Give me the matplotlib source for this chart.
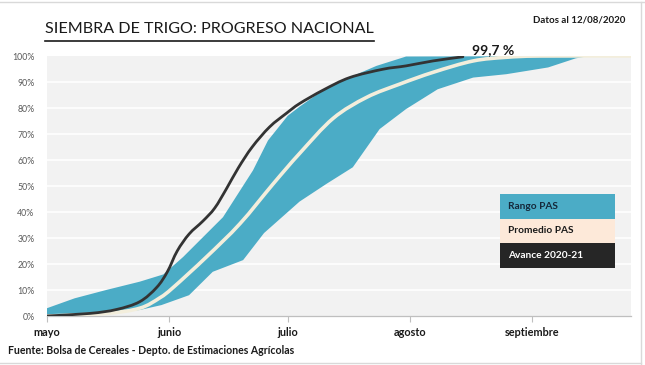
import matplotlib
matplotlib.use("Agg")
import matplotlib.pyplot as plt
from matplotlib.patches import Rectangle, PathPatch
from matplotlib.path import Path
from matplotlib.lines import Line2D

plt.rcParams['font.family'] = ['Lato', 'DejaVu Sans']

# ---- data (x = days since 1 May) ----
month_labels = ["mayo", "junio", "julio", "agosto", "septiembre"]
month_days = [0, 31, 61, 92, 123]

range_max_x = [0, 7, 15, 23.5, 29.5, 34.5, 44.6, 52.2, 56, 61, 64, 70, 77.5, 83.5, 91, 148]
range_max_y = [3, 6.8, 10, 13.2, 16, 22.7, 38, 56, 67.5, 77, 80.5, 86.9, 92.3, 96.2, 99.8, 100]

range_min_x = [0, 15, 23.5, 29, 36, 42, 49.7, 55, 64, 70.8, 77.5, 84.3, 91, 99, 108, 116.4, 127, 134, 137.5, 148]
range_min_y = [0, 0.8, 2.3, 4.2, 8, 17, 21.5, 31.9, 44, 50.8, 57.2, 71.9, 79.6, 87.2, 91.7, 93, 95.6, 99.1, 100, 100]

avg_x = [0, 15, 23.5, 28.6, 32, 40.4, 48.9, 57.3, 64, 72.5, 81, 89.4, 98, 108, 116.4, 125, 148]
avg_y = [0, 1, 3, 7, 11, 22.7, 35.5, 50.8, 62.5, 76, 84.1, 89.2, 93.8, 98.1, 99.5, 100, 100]

adv_x = [0, 10.9, 17.6, 23.5, 27.8, 30.5, 33, 36, 39.5, 42.5, 45.5, 48.5, 52, 56.4, 60.7, 64, 70, 76.7, 85.1, 91, 97.8, 105.4]
adv_y = [0, 1, 2.5, 5.5, 11, 17, 25, 31.5, 36.5, 41.5, 49, 57, 65, 72.7, 78, 81.7, 86.9, 91.7, 94.9, 96.2, 98.1, 99.7]

last_label = "99,7 %"

W, H = 645, 365
fig = plt.figure(figsize=(W / 100, H / 100), dpi=100)
fig.patch.set_facecolor('white')

def fx(px):
    return px / W

def fy(py):
    return 1 - py / H

def smooth_path(xs, ys):
    pts = list(zip(xs, ys))
    n = len(pts)
    verts = [pts[0]]
    codes = [Path.MOVETO]
    for i in range(n - 1):
        p0 = pts[i - 1] if i > 0 else pts[i]
        p1 = pts[i]
        p2 = pts[i + 1]
        p3 = pts[i + 2] if i + 2 < n else pts[i + 1]
        c1 = (p1[0] + (p2[0] - p0[0]) / 6, p1[1] + (p2[1] - p0[1]) / 6)
        c2 = (p2[0] - (p3[0] - p1[0]) / 6, p2[1] - (p3[1] - p1[1]) / 6)
        verts += [c1, c2, p2]
        codes += [Path.CURVE4] * 3
    return Path(verts, codes)

ax = fig.add_axes([fx(47), fy(316), fx(631) - fx(47), fy(56) - fy(316)])
ax.set_facecolor('#f2f2f2')
ax.set_xlim(0, 148)
ax.set_ylim(0, 100)

for v in range(10, 100, 10):
    ax.axhline(v, color='white', lw=1.2, zorder=1)

# band
poly_x = list(range_max_x) + list(range_min_x[::-1])
poly_y = list(range_max_y) + list(range_min_y[::-1])
ax.fill(poly_x, poly_y, color='#4bacc6', lw=0, zorder=2)

ax.add_patch(PathPatch(smooth_path(avg_x, avg_y), facecolor='none', edgecolor='#f3eedc',
                       lw=2.6, zorder=3, capstyle='round'))
ax.add_patch(PathPatch(smooth_path(adv_x, adv_y), facecolor='none', edgecolor='#333333',
                       lw=2.0, zorder=4, capstyle='round'))

ax.text(adv_x[-1] + 2.3, adv_y[-1] + 0.2, last_label, fontsize=10, fontweight='bold',
        color='#1a1a1a', ha='left', va='bottom', zorder=5)

for s in ['left', 'top', 'right']:
    ax.spines[s].set_visible(False)
ax.spines['bottom'].set_color('#bfbfbf')
ax.spines['bottom'].set_linewidth(0.9)

ax.set_xticks(month_days)
ax.set_xticklabels(month_labels, fontsize=7.8, fontweight='bold', color='#1a1a1a')
ax.tick_params(axis='x', length=4, color='#bfbfbf', pad=4)

ax.set_yticks(range(0, 101, 10))
ax.set_yticklabels([f"{v}%" for v in range(0, 101, 10)], fontsize=6.3, color='#595959')
ax.tick_params(axis='y', length=0, pad=9)

# title
t = fig.text(fx(45), fy(33), "SIEMBRA DE TRIGO: PROGRESO NACIONAL", fontsize=11.6,
             color='#1a1a1a', ha='left', va='baseline')
fig.text(fx(625), fy(20), "Datos al 12/08/2020", fontsize=7, fontweight='bold',
         color='#1a1a1a', ha='right', va='center')
fig.text(fx(8), fy(351), "Fuente: Bolsa de Cereales - Depto. de Estimaciones Agrícolas",
         fontsize=7.6, fontweight='bold', color='#1a1a1a', ha='left', va='center')

# legend boxes
legend_items = [("Rango PAS", '#4bacc6', '#15283a'),
                ("Promedio PAS", '#fde9d9', '#1a1a1a'),
                ("Avance 2020-21", '#262626', 'white')]
y0 = 194
hbox = 24.5
for i, (lab, fc, tc) in enumerate(legend_items):
    top = y0 + i * hbox
    fig.add_artist(Rectangle((fx(500), fy(top + hbox)), fx(615) - fx(500), fy(top) - fy(top + hbox),
                             transform=fig.transFigure, facecolor=fc, edgecolor='none', zorder=6))
    fig.text(fx(508), fy(top + hbox / 2), lab, fontsize=7.3, fontweight='bold', color=tc,
             ha='left', va='center', zorder=7)

# frame
fig.add_artist(Line2D([0, 1], [fy(1.5), fy(1.5)], transform=fig.transFigure, color='#d9d9d9', lw=1))
fig.add_artist(Line2D([fx(641), fx(641)], [0, fy(1.5)], transform=fig.transFigure, color='#d9d9d9', lw=1))
fig.add_artist(Line2D([0, fx(641)], [fy(363), fy(363)], transform=fig.transFigure, color='#d9d9d9', lw=1))

# underline title
fig.canvas.draw()
bb = t.get_window_extent()
fig.add_artist(Line2D([bb.x0 / W, bb.x1 / W], [fy(40.5), fy(40.5)], transform=fig.transFigure,
                      color='#1a1a1a', lw=1.2))

fig.savefig("out.png", dpi=100)
